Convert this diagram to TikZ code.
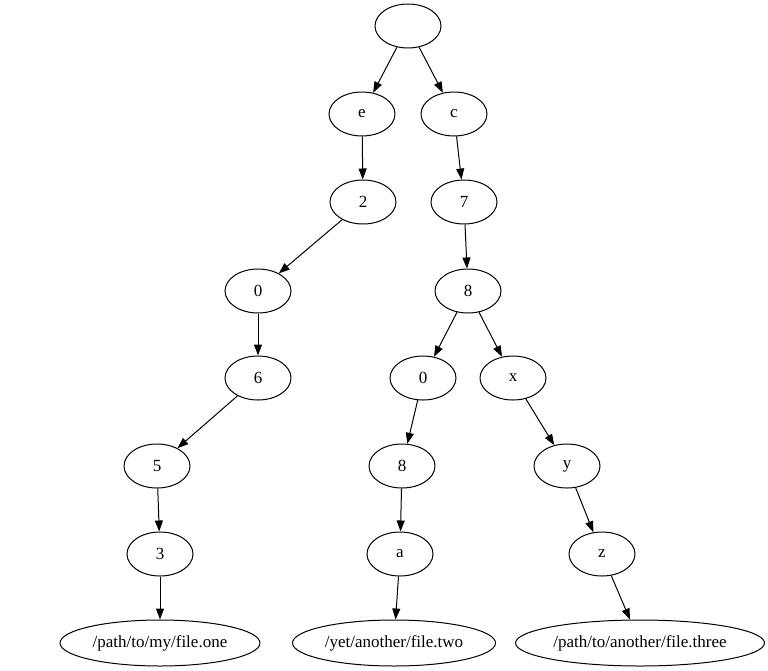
\documentclass[tikz,border=0pt]{standalone}
\usepackage{fontspec}
\setmainfont{Liberation Serif}
\usepackage{tikz}
\usetikzlibrary{shapes.geometric, arrows.meta, positioning}

\begin{document}
\begin{tikzpicture}[x=1pt, y=-1pt,
    trie/.style={ellipse, draw, line width=1pt, inner sep=0pt, minimum width=66pt, minimum height=44pt, font=\fontsize{17}{19}\selectfont},
    leaf/.style={trie, inner xsep=-30pt, minimum height=46pt},
    edge/.style={-{Triangle[length=11pt, width=8pt]}, line width=1pt}]
      \useasboundingbox (0,0) rectangle (768,670);

      % Root
      \node[trie] (root) at (408,26) {};

      % First letters
      \node[trie] (e) at (362,114) {e};
      \node[trie] (c) at (454,114) {c};

      % Left branch: e 2 0 6 5 3
      \node[trie] (e2) at (363,202) {2};
      \node[trie] (e0) at (258,291) {0};
      \node[trie] (e6) at (258,378) {6};
      \node[trie] (e5) at (157,466) {5};
      \node[trie] (e3) at (160,554) {3};

      % Right branch: c 7 8
      \node[trie] (c7) at (464,202) {7};
      \node[trie] (c8) at (468,291) {8};

      % Sub-branch: 0 8 a
      \node[trie] (c0) at (423,378) {0};
      \node[trie] (c08) at (402,466) {8};
      \node[trie] (ca) at (400,554) {a};

      % Sub-branch: x y z
      \node[trie] (cx) at (513,378) {x};
      \node[trie] (cy) at (567,466) {y};
      \node[trie] (cz) at (602,554) {z};

      % Files
      \node[leaf, minimum width=200pt] (one) at (160,643) {/path/to/my/file.one};
      \node[leaf, minimum width=203pt] (two) at (394,643) {/yet/another/file.two};
      \node[leaf, minimum width=249pt] (three) at (640,643) {/path/to/another/file.three};

      % Arrows
      \draw[edge] (root) -- (e);
      \draw[edge] (root) -- (c);
      \draw[edge] (e) -- (e2);
      \draw[edge] (e2) -- (e0);
      \draw[edge] (e0) -- (e6);
      \draw[edge] (e6) -- (e5);
      \draw[edge] (e5) -- (e3);
      \draw[edge] (e3) -- (one);
      \draw[edge] (c) -- (c7);
      \draw[edge] (c7) -- (c8);
      \draw[edge] (c8) -- (c0);
      \draw[edge] (c8) -- (cx);
      \draw[edge] (c0) -- (c08);
      \draw[edge] (c08) -- (ca);
      \draw[edge] (ca) -- (two);
      \draw[edge] (cx) -- (cy);
      \draw[edge] (cy) -- (cz);
      \draw[edge] (cz) -- (three);
    \end{tikzpicture}
\end{document}
